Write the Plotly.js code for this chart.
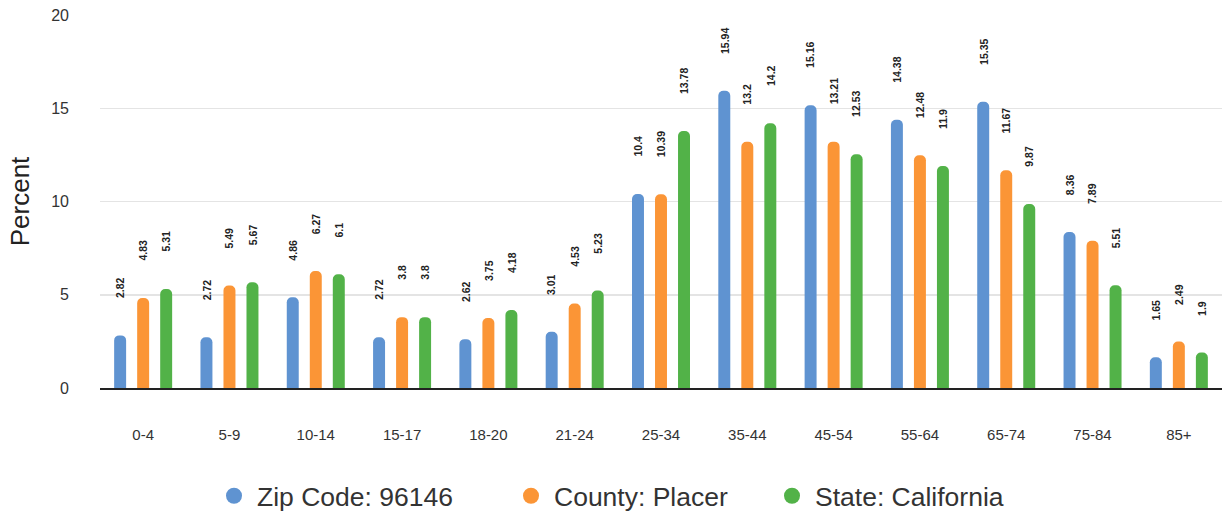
<!DOCTYPE html>
<html>
<head>
<meta charset="utf-8">
<script src="https://cdn.plot.ly/plotly-3.0.1.min.js"></script>
<style>
  html, body { margin: 0; padding: 0; background: #fff; }
  #chart { width: 1229px; height: 514px; }
</style>
</head>
<body>
<div id="chart"></div>
<script>
// Age distribution, percent of population
const ageGroups = ['0-4', '5-9', '10-14', '15-17', '18-20', '21-24', '25-34', '35-44', '45-54', '55-64', '65-74', '75-84', '85+'];
const zipValues    = [2.82, 2.72, 4.86, 2.72, 2.62, 3.01, 10.4, 15.94, 15.16, 14.38, 15.35, 8.36, 1.65];
const countyValues = [4.83, 5.49, 6.27, 3.8, 3.75, 4.53, 10.39, 13.2, 13.21, 12.48, 11.67, 7.89, 2.49];
const stateValues  = [5.31, 5.67, 6.1, 3.8, 4.18, 5.23, 13.78, 14.2, 12.53, 11.9, 9.87, 5.51, 1.9];
const seriesNames  = ['Zip Code: 96146', 'County: Placer', 'State: California'];
const yTicks = [0, 5, 10, 15, 20];

const colors = ['#5f93d1', '#fb9536', '#52b248'];
const seriesValues = [zipValues, countyValues, stateValues];
const fontFamily = 'Arial, "Liberation Sans", sans-serif';
const legendIds = ['legend', 'legend2', 'legend3'];
const legendLeft = [211, 508, 769];   // left edge of each legend entry, px

const traces = [];
seriesValues.forEach((vals, i) => {
  traces.push({
    type: 'bar',
    x: ageGroups,
    y: vals,
    name: seriesNames[i],
    marker: { color: colors[i], cornerradius: 6 },
    showlegend: false,
    hoverinfo: 'x+y+name'
  });
});
// Legend entries drawn as round markers, one legend box per series
seriesValues.forEach((vals, i) => {
  traces.push({
    type: 'scatter',
    mode: 'markers',
    x: [null],
    y: [null],
    name: seriesNames[i],
    legend: legendIds[i],
    marker: { color: colors[i], size: 18, symbol: 'circle' },
    showlegend: true,
    hoverinfo: 'skip'
  });
});

// Rotated value labels above each bar
const offsets = [-23, 0, 23];
const annotations = [];
seriesValues.forEach((vals, i) => {
  vals.forEach((v, j) => {
    annotations.push({
      x: ageGroups[j],
      y: v,
      xref: 'x',
      yref: 'y',
      text: String(v),
      showarrow: false,
      textangle: -90,
      xanchor: 'center',
      yanchor: 'bottom',
      xshift: offsets[i],
      yshift: 35,
      font: { family: fontFamily, size: 10.5, color: '#222', weight: 700 }
    });
  });
});

function legendBox(i) {
  return {
    orientation: 'h',
    xref: 'container',
    yref: 'container',
    x: legendLeft[i] / 1229,
    xanchor: 'left',
    y: (514 - 496) / 514,
    yanchor: 'middle',
    font: { size: 26.5, color: '#333' },
    itemsizing: 'trace',
    itemwidth: 36,
    bgcolor: 'rgba(0,0,0,0)'
  };
}

const layout = {
  width: 1229,
  height: 514,
  margin: { l: 100, r: 7, t: 15, b: 126 },
  paper_bgcolor: '#ffffff',
  plot_bgcolor: '#ffffff',
  font: { family: fontFamily, color: '#333' },
  barmode: 'group',
  bargap: 0.2,
  bargroupgap: 0.48,
  xaxis: {
    type: 'category',
    categoryorder: 'array',
    categoryarray: ageGroups,
    showgrid: false,
    showline: true,
    linecolor: '#222',
    linewidth: 2,
    ticks: '',
    ticklabelstandoff: 32,
    tickfont: { size: 15, color: '#333' },
    automargin: false
  },
  yaxis: {
    range: [0, 20],
    tickvals: yTicks,
    ticktext: yTicks.map(String),
    showgrid: true,
    gridcolor: '#e4e4e4',
    gridwidth: 1.5,
    zeroline: false,
    showline: false,
    ticks: '',
    ticklabelstandoff: 30,
    tickfont: { size: 16, color: '#333' },
    title: { text: 'Percent', font: { size: 26, color: '#222' }, standoff: 14 },
    automargin: false
  },
  legend: legendBox(0),
  legend2: legendBox(1),
  legend3: legendBox(2),
  annotations: annotations
};

Plotly.newPlot('chart', traces, layout, { displayModeBar: false, staticPlot: true });
</script>
</body>
</html>
